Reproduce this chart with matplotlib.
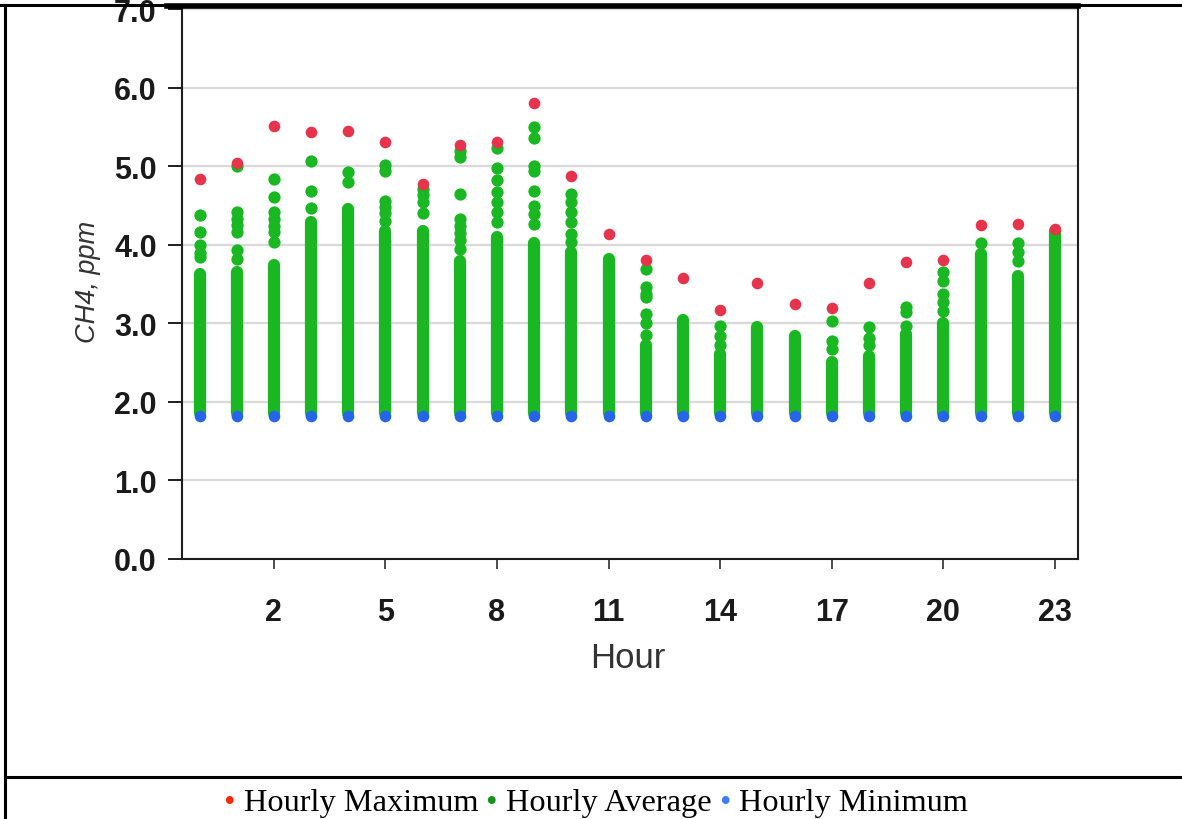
import matplotlib
matplotlib.use("Agg")
import matplotlib.pyplot as plt
from matplotlib.lines import Line2D
from matplotlib.offsetbox import TextArea, HPacker, AnnotationBbox

# hourly CH4 (ppm)
hours = list(range(24))
hourly_max = [4.84, 5.04, 5.52, 5.44, 5.45, 5.31, 4.78, 5.27, 5.31, 5.81, 4.88, 4.14,
              3.81, 3.58, 3.17, 3.52, 3.25, 3.20, 3.52, 3.78, 3.81, 4.25, 4.27, 4.20]
hourly_min = [1.82] * 24

# hourly averages: each hour has a solid run of overlapping points (bottom..top)
# plus a few scattered points above it
avg_run_top = [3.63, 3.66, 3.74, 4.29, 4.46, 4.18, 4.18, 3.80, 4.10, 4.03, 3.91, 3.82,
               2.72, 3.04, 2.61, 2.95, 2.84, 2.51, 2.59, 2.87, 3.01, 3.89, 3.61, 4.18]
avg_run_bottom = [1.86] * 24
avg_upper = [
    [4.38, 4.17, 4.00, 3.90, 3.84],
    [5.00, 4.42, 4.33, 4.25, 4.16, 3.93, 3.82],
    [4.84, 4.61, 4.42, 4.33, 4.24, 4.16, 4.04],
    [5.07, 4.68, 4.47],
    [4.93, 4.80],
    [5.02, 4.94, 4.56, 4.48, 4.40, 4.30],
    [4.71, 4.63, 4.54, 4.40],
    [5.20, 5.12, 4.65, 4.33, 4.24, 4.15, 4.06, 3.95],
    [5.24, 4.98, 4.82, 4.67, 4.54, 4.42, 4.29],
    [5.50, 5.36, 5.01, 4.94, 4.69, 4.50, 4.39, 4.27],
    [4.65, 4.54, 4.42, 4.29, 4.14, 4.04],
    [],
    [3.69, 3.46, 3.38, 3.33, 3.12, 3.01, 2.85],
    [],
    [2.97, 2.84, 2.72],
    [],
    [],
    [3.03, 2.78, 2.68],
    [2.95, 2.82, 2.72],
    [3.21, 3.14, 2.97],
    [3.66, 3.54, 3.38, 3.27, 3.16],
    [4.03],
    [4.03, 3.91, 3.79],
    [],
]

y_ticks = [0, 1, 2, 3, 4, 5, 6, 7]
x_ticks = [2, 5, 8, 11, 14, 17, 20, 23]

RED, GREEN, BLUE = "#e5344b", "#19b722", "#2765e8"

fig = plt.figure(figsize=(11.82, 8.2), dpi=100)
ax = fig.add_axes([0.1537, 0.3171, 0.7583, 0.6732])

ax.vlines(hours, avg_run_bottom, avg_run_top, color=GREEN, linewidth=8.8,
          capstyle="round", zorder=3)
up_x = [h for h, vals in zip(hours, avg_upper) for _ in vals]
up_y = [v for vals in avg_upper for v in vals]
ax.scatter(up_x, up_y, s=78, color=GREEN, linewidths=0, zorder=3)
ax.scatter(hours, hourly_min, s=70, color=BLUE, linewidths=0, zorder=4)
ax.scatter(hours, hourly_max, s=70, color=RED, linewidths=0, zorder=5)

ax.set_xlim(-0.48, 23.62)
ax.set_ylim(0, 7.03)
ax.set_yticks(y_ticks)
ax.set_yticklabels([f"{t:.1f}" for t in y_ticks])
ax.set_xticks(x_ticks)
ax.grid(axis="y", color="#d9d9d9", linewidth=1.6, zorder=0)
ax.set_axisbelow(True)
for side in ["left", "right", "top", "bottom"]:
    ax.spines[side].set_linewidth(1.5)
    ax.spines[side].set_color("#1e1e1e")
ax.tick_params(axis="y", direction="out", length=10, width=1.4, pad=8, color="#1e1e1e")
ax.tick_params(axis="x", direction="out", length=7.5, width=1.1, pad=20, color="#1e1e1e")
for lab in ax.get_xticklabels() + ax.get_yticklabels():
    lab.set_fontfamily("Liberation Sans")
    lab.set_fontweight("bold")
    lab.set_fontsize(22)
    lab.set_color("#1a1a1a")

fig.text(628 / 1182, 1 - 658 / 820, "Hour", fontsize=25, family="Liberation Sans",
         color="#333333", ha="center", va="center")
fig.text(88 / 1182, 1 - 282 / 820, "CH4, ppm", fontsize=19.5, family="Liberation Sans",
         style="italic", color="#333333", rotation=90, ha="center", va="center")

# page frame around the figure cell
frame = dict(color="black", linewidth=2.2, transform=fig.transFigure)
fig.add_artist(Line2D([5 / 1182, 5 / 1182], [0, 1 - 6 / 820], **frame))
fig.add_artist(Line2D([5 / 1182, 1], [1 - 778 / 820, 1 - 778 / 820], **frame))
fig.add_artist(Line2D([0, 1], [1 - 6 / 820, 1 - 6 / 820], **frame))
fig.add_artist(Line2D([167 / 1182, 1078 / 1182], [1 - 6.5 / 820, 1 - 6.5 / 820],
                      color="black", linewidth=4, transform=fig.transFigure))

# legend line in serif text with coloured bullets
serif = dict(family="Liberation Serif", size=23.3)
parts = []
for col, name in [("#ff2a00", "Hourly Maximum"), ("#129412", "Hourly Average"),
                  ("#3d7eff", "Hourly Minimum")]:
    parts.append(TextArea("\u2022 ", textprops=dict(color=col, **serif)))
    parts.append(TextArea(name + " ", textprops=dict(color="black", **serif)))
pack = HPacker(children=parts, align="baseline", pad=0, sep=0)
fig.add_artist(AnnotationBbox(pack, (600 / 1182, 1 - 804 / 820), xycoords="figure fraction",
                              frameon=False, box_alignment=(0.5, 0.5)))

fig.savefig("out.png", dpi=100)
